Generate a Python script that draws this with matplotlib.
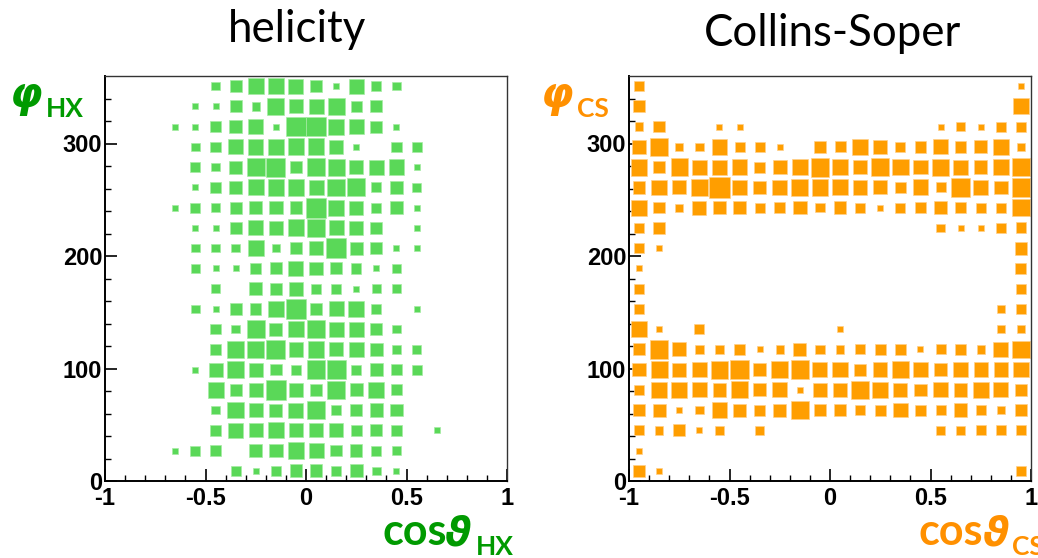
import numpy as np
import matplotlib
matplotlib.use('Agg')
import matplotlib.pyplot as plt

# box sizes, top row (phi 342-360) first, 60 = full bin
hx_rows = [
    [0,0,0,0,0,25,35,48,48,45,37,18,45,30,25,0,0,0,0,0],
    [0,0,0,0,18,18,35,25,50,42,45,50,34,35,0,0,0,0,0,0],
    [0,0,0,18,18,31,40,45,18,58,58,48,45,35,18,0,0,0,0,0],
    [0,0,0,0,25,31,44,46,48,50,50,42,18,0,31,30,0,0,0,0],
    [0,0,0,0,30,25,38,53,57,37,52,50,42,45,47,18,0,0,0,0],
    [0,0,0,0,18,31,40,48,49,50,45,52,54,30,38,25,0,0,0,0],
    [0,0,0,18,30,25,35,38,40,37,60,48,42,30,38,18,0,0,0,0],
    [0,0,0,0,18,18,35,45,40,50,52,45,42,35,0,18,0,0,0,0],
    [0,0,0,0,25,25,25,48,25,37,40,58,38,35,18,18,0,0,0,0],
    [0,0,0,0,25,18,18,32,35,45,40,35,31,18,25,0,0,0,0,0],
    [0,0,0,0,0,25,0,38,35,42,30,30,18,25,25,0,0,0,0,0],
    [0,0,0,0,25,18,35,34,49,58,35,45,49,30,0,18,0,0,0,0],
    [0,0,0,0,0,31,25,53,38,48,54,45,45,35,25,0,0,0,0,0],
    [0,0,0,0,0,31,52,50,57,44,50,42,45,40,25,25,0,0,0,0],
    [0,0,0,0,18,42,50,42,34,30,55,57,30,37,34,30,0,0,0,0],
    [0,0,0,0,0,48,35,42,60,42,37,52,38,48,33,0,0,0,0,0],
    [0,0,0,0,0,25,49,42,38,45,54,30,37,40,37,0,0,0,0,0],
    [0,0,0,0,0,31,44,42,48,42,42,42,33,35,31,0,18,0,0,0],
    [0,0,0,18,30,31,0,38,40,50,45,34,37,30,25,0,0,0,0,0],
    [0,0,0,0,0,0,30,18,30,38,38,30,38,25,18,0,0,0,0,0],
]
cs_rows = [
    [30,0,0,0,0,0,0,0,0,0,0,0,0,0,0,0,0,0,0,18],
    [36,0,0,0,0,0,0,0,0,0,0,0,0,0,0,0,0,0,0,48],
    [25,34,0,0,18,18,0,0,0,0,0,0,0,0,0,18,25,18,30,30],
    [40,52,25,25,47,30,30,18,0,34,33,48,41,30,34,44,34,38,48,25],
    [50,36,52,44,44,47,33,42,46,56,47,43,53,49,43,50,44,40,47,52],
    [38,46,42,50,60,43,40,45,51,50,47,43,41,34,47,30,56,44,40,56],
    [48,34,24,41,37,40,30,34,40,28,37,30,18,30,33,39,34,30,30,52],
    [30,34,0,0,0,0,0,0,0,0,0,0,0,0,0,25,18,18,30,32],
    [30,18,0,0,0,0,0,0,0,0,0,0,0,0,0,0,0,0,0,38],
    [18,0,0,0,0,0,0,0,0,0,0,0,0,0,0,0,0,0,0,33],
    [30,0,0,0,0,0,0,0,0,0,0,0,0,0,0,0,0,0,0,30],
    [30,0,0,0,0,0,0,0,0,0,0,0,0,0,0,0,0,0,25,30],
    [46,18,0,30,0,0,0,0,0,0,18,0,0,0,0,0,0,0,25,25],
    [36,55,42,25,25,33,18,25,38,28,25,30,33,33,18,30,33,25,44,52],
    [40,50,42,44,53,55,40,52,55,45,46,35,43,50,46,37,46,43,43,46],
    [30,46,48,44,41,50,38,45,18,42,41,55,48,41,37,44,40,49,44,37],
    [37,39,18,25,47,39,33,39,55,34,37,30,33,43,33,30,40,30,25,37],
    [30,25,36,18,25,0,25,0,0,0,0,0,0,0,0,25,25,30,30,30],
    [18,0,0,0,0,0,0,0,0,0,0,0,0,0,0,0,0,0,0,0],
    [36,18,0,0,0,0,0,0,0,0,0,0,0,0,0,0,0,0,0,30],
]
x_ticks = [-1, -0.5, 0, 0.5, 1]
x_ticklabels = ['-1', '-0.5', '0', '0.5', '1']
y_ticks = [0, 100, 200, 300]

W, H = 1038, 558
GREEN, ORANGE = '#5ad858', '#ff9e00'
DGREEN = '#009a00'
DORANGE = '#ff9000'
plt.rcParams['font.family'] = ['Liberation Sans', 'DejaVu Sans']

def make_panel(fig, left, rows, color, edge):
    ax = fig.add_axes([left / W, 1 - 481 / H, 402 / W, 405 / H])
    vals = np.array(rows[::-1], dtype=float)
    xc = np.linspace(-0.95, 0.95, 20)
    yc = np.arange(9, 360, 18)
    for j, y in enumerate(yc):
        for i, x in enumerate(xc):
            s = vals[j, i] / 60
            if s > 0:
                ax.bar(x, s * 18, width=s * 0.1, bottom=y - s * 9, color=color,
                       edgecolor=edge, linewidth=0.5, zorder=2)
    ax.set_xlim(-1, 1)
    ax.set_ylim(0, 360)
    ax.set_xticks(x_ticks)
    ax.set_xticklabels(x_ticklabels)
    ax.set_yticks(y_ticks)
    ax.set_xticks(np.arange(-1, 1.01, 0.1), minor=True)
    ax.set_yticks(np.arange(0, 360, 20), minor=True)
    ax.tick_params(which='major', direction='in', length=8.6, width=1.2, top=False, right=False)
    ax.tick_params(which='minor', direction='in', length=4.3, width=1.0, top=False, right=False)
    ax.tick_params(axis='x', which='major', labelsize=17, pad=4.5)
    ax.tick_params(axis='y', which='major', labelsize=17, pad=2)
    for lab in ax.get_xticklabels() + ax.get_yticklabels():
        lab.set_fontweight('bold')
    for side in ['left', 'bottom']:
        ax.spines[side].set_linewidth(1.4)
    for side in ['top', 'right']:
        ax.spines[side].set_linewidth(1.0)
        ax.spines[side].set_color('#333333')
    return ax

def px_text(fig, x, y, s, **kw):
    fig.text(x / W, 1 - y / H, s, **kw)

fig = plt.figure(figsize=(W / 100, H / 100), dpi=100)
make_panel(fig, 105, hx_rows, GREEN, '#a5eba3')
make_panel(fig, 629, cs_rows, ORANGE, '#ffd08a')

px_text(fig, 297, 30, 'helicity', family='Lato', fontsize=31.5, ha='center', va='center', color='black')
px_text(fig, 833, 33, 'Collins-Soper', family='Lato', fontsize=31.5, ha='center', va='center', color='black')

# axis titles, put together from pieces
sym = dict(family='DejaVu Sans', fontweight='bold', style='italic')
lab = dict(family='Lato', fontweight='bold')
px_text(fig, 10, 107, '\u03c6', color=DGREEN, fontsize=30, va='baseline', **sym)
px_text(fig, 46, 117, 'HX', color=DGREEN, fontsize=19, va='baseline', **lab)
px_text(fig, 541, 107, '\u03c6', color=DORANGE, fontsize=30, va='baseline', **sym)
px_text(fig, 577, 117, 'CS', color=DORANGE, fontsize=19, va='baseline', **lab)

px_text(fig, 382, 545, 'cos', color=DGREEN, fontsize=31, va='baseline', **lab)
px_text(fig, 445, 545, '\u03d1', color=DGREEN, fontsize=29, va='baseline', **sym)
px_text(fig, 476, 555, 'HX', color=DGREEN, fontsize=19, va='baseline', **lab)
px_text(fig, 918, 545, 'cos', color=DORANGE, fontsize=31, va='baseline', **lab)
px_text(fig, 983, 545, '\u03d1', color=DORANGE, fontsize=29, va='baseline', **sym)
px_text(fig, 1012, 555, 'CS', color=DORANGE, fontsize=19, va='baseline', **lab)

fig.savefig('out.png', dpi=100)
